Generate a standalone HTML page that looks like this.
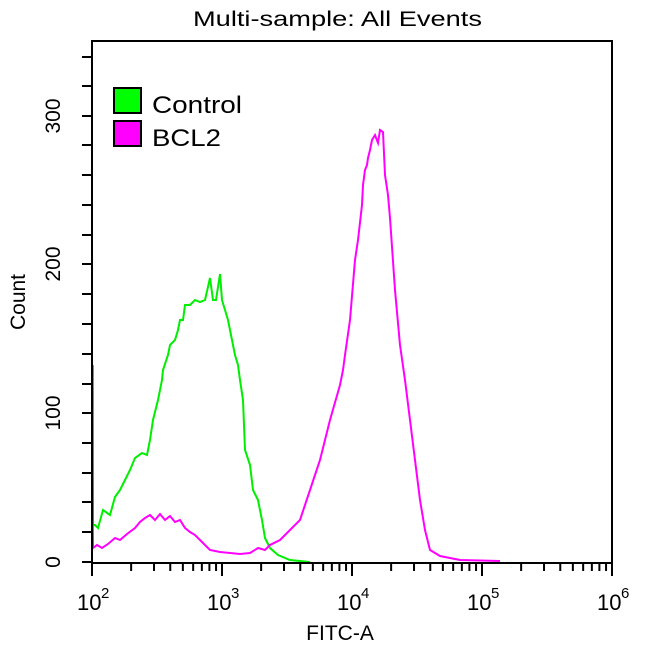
<!DOCTYPE html>
<html><head><style>body{margin:0;background:#fff}</style></head><body>
<svg width="650" height="650" xmlns="http://www.w3.org/2000/svg" font-family="Liberation Sans, sans-serif">
<rect width="650" height="650" fill="#fff"/>
<text x="193" y="26" font-size="21" textLength="289" lengthAdjust="spacingAndGlyphs">Multi-sample: All Events</text>
<polyline fill="none" stroke="#00ee00" stroke-width="2" points="93,365 93,525 95,525 98,528 103,510 110,515 115,497 120,490 125,480 130,470 135,458 142,453 147,455 150,440 153,420 155,412 158,400 162,380 163,370 168,355 170,345 175,340 178,330 180,320 183,320 185,305 190,305 195,300 200,302 205,300 210,278 213,300 216,300 220,274 222,300 228,320 232,340 235,355 238,365 240,380 243,400 245,450 250,465 253,490 258,500 262,520 265,538 270,548 278,555 290,560 310,562"/>
<polyline fill="none" stroke="#ff00ff" stroke-width="2" points="92,413 93,548 97,545 102,548 108,544 115,538 120,540 127,534 135,528 140,522 145,518 150,515 155,520 160,514 165,520 170,516 175,522 180,520 185,528 190,532 195,535 200,540 205,545 210,550 220,552 230,553 240,554 250,553 258,548 265,550 270,545 280,540 290,530 300,520 305,505 310,490 315,475 320,460 330,420 340,385 343,370 345,355 350,320 355,260 358,240 362,205 363,185 365,170 367,165 368,158 370,150 372,140 375,135 378,143 380,130 383,132 385,175 388,195 390,218 395,290 400,345 405,380 410,420 415,460 420,500 425,530 430,550 440,556 460,560 500,561"/>
<rect x="92" y="41" width="520" height="522" fill="none" stroke="#000" stroke-width="2"/>
<g stroke="#000" stroke-width="2" id="ticks">
<line x1="82" y1="562" x2="92" y2="562"/><line x1="82" y1="532" x2="92" y2="532"/><line x1="82" y1="502" x2="92" y2="502"/><line x1="82" y1="473" x2="92" y2="473"/><line x1="82" y1="443" x2="92" y2="443"/><line x1="82" y1="413" x2="92" y2="413"/><line x1="82" y1="384" x2="92" y2="384"/><line x1="82" y1="354" x2="92" y2="354"/><line x1="82" y1="324" x2="92" y2="324"/><line x1="82" y1="294" x2="92" y2="294"/><line x1="82" y1="264" x2="92" y2="264"/><line x1="82" y1="235" x2="92" y2="235"/><line x1="82" y1="205" x2="92" y2="205"/><line x1="82" y1="175" x2="92" y2="175"/><line x1="82" y1="145" x2="92" y2="145"/><line x1="82" y1="116" x2="92" y2="116"/><line x1="82" y1="86" x2="92" y2="86"/><line x1="82" y1="57" x2="92" y2="57"/>
</g>
<g stroke="#000" stroke-width="2" id="xt"></g>
<g font-size="21" text-anchor="middle">
<text transform="translate(60,562) rotate(-90)">0</text>
<text transform="translate(60,413) rotate(-90)">100</text>
<text transform="translate(60,264) rotate(-90)">200</text>
<text transform="translate(60,116) rotate(-90)">300</text>
<text transform="translate(25,302) rotate(-90)">Count</text>
<text x="340" y="640">FITC-A</text>
</g>
<g font-size="22" id="xl"></g>
<rect x="114" y="88" width="27" height="25" fill="#00ff00" stroke="#000" stroke-width="2"/>
<rect x="114" y="121" width="27" height="25" fill="#ff00ff" stroke="#000" stroke-width="2"/>
<text x="152" y="113" font-size="24" textLength="90" lengthAdjust="spacingAndGlyphs">Control</text>
<text x="152" y="146" font-size="24" textLength="69" lengthAdjust="spacingAndGlyphs">BCL2</text>
<script>
var g=document.getElementById('xt'),l=document.getElementById('xl'),ns='http://www.w3.org/2000/svg';
for(var d=0;d<4;d++){for(var k=1;k<=10;k++){var x=92+130*(d+Math.log10(k));var ln=document.createElementNS(ns,'line');ln.setAttribute('x1',x);ln.setAttribute('x2',x);ln.setAttribute('y1',563);ln.setAttribute('y2',(k==1||k==10)?576:571);g.appendChild(ln);}}
for(var i=0;i<5;i++){var x=92+130*i;var t=document.createElementNS(ns,'text');t.setAttribute('x',x-15);t.setAttribute('y',610);t.textContent='10';l.appendChild(t);var s=document.createElementNS(ns,'text');s.setAttribute('x',x+9);s.setAttribute('y',598);s.setAttribute('font-size','15');s.textContent=(i+2);l.appendChild(s);}
</script>
</svg>
</body></html>
